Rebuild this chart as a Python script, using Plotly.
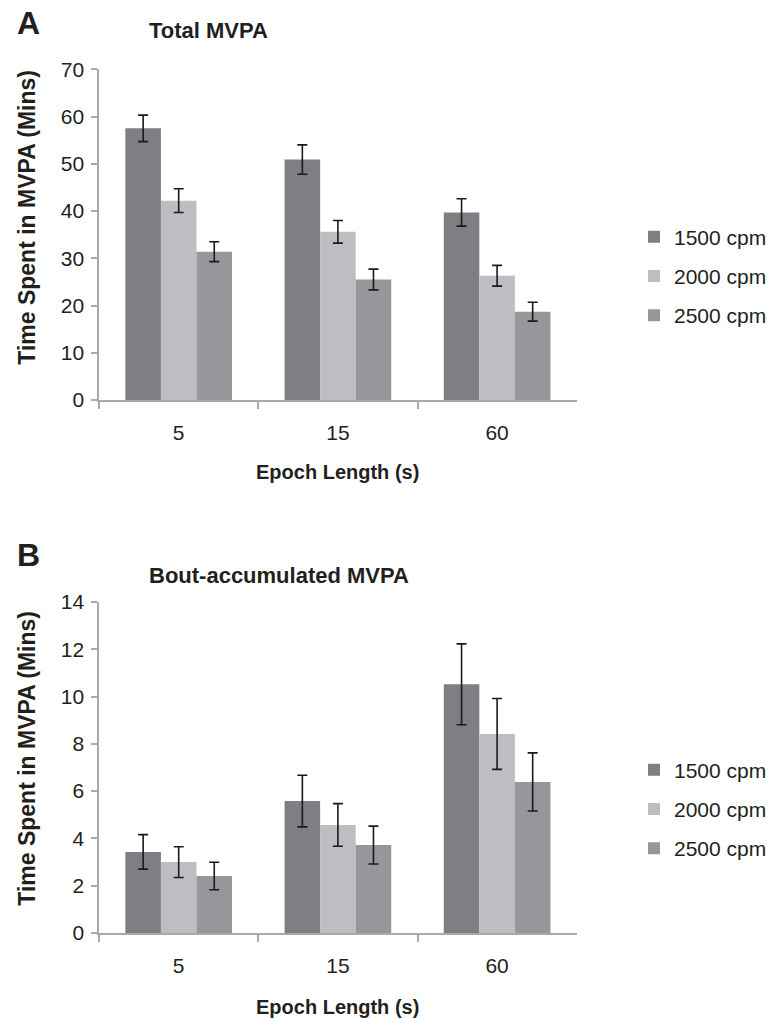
import plotly.graph_objects as go

# ---------------- data ----------------
epochs = ["5", "15", "60"]
series_names = ["1500 cpm", "2000 cpm", "2500 cpm"]

total_1500 = [57.5, 50.9, 39.7]
total_1500_err = [2.8, 3.1, 2.9]
total_2000 = [42.2, 35.6, 26.3]
total_2000_err = [2.5, 2.4, 2.2]
total_2500 = [31.4, 25.5, 18.7]
total_2500_err = [2.1, 2.2, 2.0]

bout_1500 = [3.43, 5.58, 10.52]
bout_1500_err = [0.73, 1.09, 1.71]
bout_2000 = [3.0, 4.57, 8.42]
bout_2000_err = [0.65, 0.9, 1.5]
bout_2500 = [2.41, 3.72, 6.39]
bout_2500_err = [0.58, 0.8, 1.23]

y_ticks_total = [0, 10, 20, 30, 40, 50, 60, 70]
y_ticks_bout = [0, 2, 4, 6, 8, 10, 12, 14]

# ---------------- style ----------------
W, H = 772, 1019
FONT = "Liberation Sans, Arial, Helvetica, sans-serif"
TXT = "#231f20"
AXC = "#a9a9a9"
colors = ["#7e7f83", "#bdbec2", "#96979b"]


def px(x):
    return x / W


def py(y):
    return 1 - y / H


fig = go.Figure()

total = [(total_1500, total_1500_err), (total_2000, total_2000_err), (total_2500, total_2500_err)]
bout = [(bout_1500, bout_1500_err), (bout_2000, bout_2000_err), (bout_2500, bout_2500_err)]

for i, (vals, errs) in enumerate(total):
    fig.add_trace(go.Bar(
        x=epochs, y=vals, name=series_names[i], marker_color=colors[i],
        marker_line_width=0,
        error_y=dict(type="data", array=errs, color="#1a1a1a", thickness=1.6, width=5),
        xaxis="x", yaxis="y", legend="legend", legendgroup="a%d" % i,
    ))
for i, (vals, errs) in enumerate(bout):
    fig.add_trace(go.Bar(
        x=epochs, y=vals, name=series_names[i], marker_color=colors[i],
        marker_line_width=0,
        error_y=dict(type="data", array=errs, color="#1a1a1a", thickness=1.6, width=5),
        xaxis="x2", yaxis="y2", legend="legend2", legendgroup="b%d" % i,
    ))

xdom = [px(100), px(582)]
common_x = dict(
    domain=xdom, type="category", showline=True, linecolor=AXC, linewidth=1.5,
    ticks="outside", tickson="boundaries", ticklen=7, tickcolor=AXC, tickwidth=1.5,
    tickfont=dict(family=FONT, size=21, color=TXT), ticklabelstandoff=13,
    showgrid=False, zeroline=False, automargin=False,
)
common_y = dict(
    showline=True, linecolor=AXC, linewidth=1.5, ticks="outside", ticklen=6,
    tickcolor=AXC, tickwidth=1.5, tickfont=dict(family=FONT, size=21, color=TXT),
    showgrid=False, zeroline=False, automargin=False, ticklabelstandoff=3,
)

legend_common = dict(
    font=dict(family=FONT, size=21, color=TXT), bgcolor="rgba(0,0,0,0)",
    xanchor="left", yanchor="middle", tracegroupgap=9, itemclick=False,
)

fig.update_layout(
    width=W, height=H, margin=dict(l=0, r=0, t=0, b=0),
    paper_bgcolor="white", plot_bgcolor="white",
    barmode="group", bargap=0.33, bargroupgap=0,
    xaxis=dict(common_x, anchor="y"),
    yaxis=dict(common_y, domain=[py(400), py(69.3)], range=[0, 70],
               tickvals=y_ticks_total, anchor="x"),
    xaxis2=dict(common_x, anchor="y2"),
    yaxis2=dict(common_y, domain=[py(933), py(602)], range=[0, 14],
                tickvals=y_ticks_bout, anchor="x2"),
    legend=dict(legend_common, x=px(640), y=py(276)),
    legend2=dict(legend_common, x=px(640), y=py(809)),
    showlegend=True,
)

ann = [
    ("A", 15, 23, 32, True, 0, "left"),
    ("Total MVPA", 148, 30, 22, True, 0, "left"),
    ("B", 15, 555, 32, True, 0, "left"),
    ("Bout-accumulated MVPA", 148, 575, 22, True, 0, "left"),
    ("Epoch Length (s)", 341, 472, 20, True, 0, "center"),
    ("Epoch Length (s)", 341, 1007, 20, True, 0, "center"),
    ("Time Spent in MVPA (Mins)", 27, 217, 23, True, -90, "center"),
    ("Time Spent in MVPA (Mins)", 27, 758, 23, True, -90, "center"),
]
for text, x, y, size, bold, angle, xa in ann:
    fig.add_annotation(
        text="<b>%s</b>" % text if bold else text,
        x=px(x), y=py(y), xref="paper", yref="paper",
        xanchor=xa, yanchor="middle", showarrow=False, textangle=angle,
        font=dict(family=FONT, size=size, color=TXT),
    )

fig.write_html("out.html", config={"displayModeBar": False},
               post_script="document.body.style.margin='0px';")
